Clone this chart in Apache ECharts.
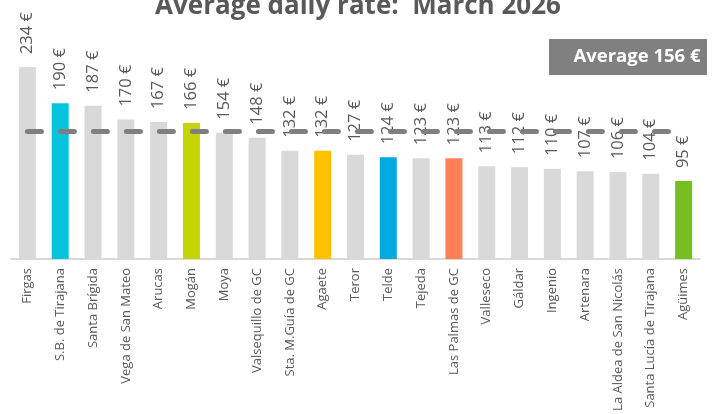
<!DOCTYPE html>
<html>
<head>
<meta charset="utf-8">
<script src="https://cdn.jsdelivr.net/npm/echarts@6/dist/echarts.min.js"></script>
<style>
    html, body { margin: 0; padding: 0; background: #fff; }
    #chart { width: 718px; height: 414px; }
</style>
</head>
<body>
<div id="chart"></div>
<script>
    // municipalities, sorted by rate
    var municipios = ['Firgas', 'S.B. de Tirajana', 'Santa Brígida', 'Vega de San Mateo', 'Arucas', 'Mogán',
        'Moya', 'Valsequillo de GC', 'Sta. M.Guía de GC', 'Agaete', 'Teror', 'Telde', 'Tejeda',
        'Las Palmas de GC', 'Valleseco', 'Gáldar', 'Ingenio', 'Artenara', 'La Aldea de San Nicolás',
        'Santa Lucía de Tirajana', 'Agüimes'];
    var tarifas = [234, 190, 187, 170, 167, 166, 154, 148, 132, 132, 127, 124, 123, 123, 113, 112, 110, 107, 106, 104, 95];
    var media = 156;

    var grisBarra = '#d9d9d9';
    var destacados = {
        'S.B. de Tirajana': '#05c3de',
        'Mogán': '#c4d600',
        'Agaete': '#ffc000',
        'Telde': '#00a9e0',
        'Las Palmas de GC': '#ff7f56',
        'Agüimes': '#78be20'
    };

    var chart = echarts.init(document.getElementById('chart'));

    var option = {
        animation: false,
        title: {
            text: 'Average daily rate:  March 2026',
            left: 353,
            textAlign: 'center',
            top: -11,
            textStyle: {
                fontFamily: 'Open Sans',
                fontSize: 26,
                fontWeight: 'bold',
                color: '#595959'
            }
        },
        graphic: [{
            type: 'group',
            left: 549,
            top: 39,
            children: [{
                type: 'rect',
                shape: { x: 0, y: 0, width: 158, height: 36 },
                style: { fill: '#808080' }
            }, {
                type: 'text',
                x: 88,
                y: 18,
                style: {
                    text: 'Average ' + media + ' €',
                    fill: '#fff',
                    font: 'bold 18.5px "Open Sans"',
                    textAlign: 'center',
                    textVerticalAlign: 'middle'
                }
            }]
        }],
        grid: {
            left: 11,
            right: 18,
            top: 54,
            bottom: 155
        },
        xAxis: {
            type: 'category',
            data: municipios,
            axisTick: { show: false },
            axisLine: { lineStyle: { color: '#d9d9d9', width: 2 } },
            axisLabel: {
                rotate: 90,
                interval: 0,
                margin: 9,
                fontFamily: 'Open Sans',
                fontSize: 13,
                color: '#595959'
            }
        },
        yAxis: {
            type: 'value',
            min: 0,
            max: 250,
            show: false,
            splitLine: { show: false }
        },
        series: [{
            type: 'bar',
            barWidth: 17,
            data: tarifas.map(function (v, i) {
                return {
                    value: v,
                    itemStyle: { color: destacados[municipios[i]] || grisBarra }
                };
            }),
            label: {
                show: true,
                position: 'top',
                distance: 13,
                rotate: 90,
                align: 'left',
                verticalAlign: 'middle',
                formatter: '{c} €',
                fontFamily: 'Open Sans',
                fontSize: 16.5,
                color: '#595959'
            }
        }, {
            type: 'line',
            data: [],
            z: 10,
            markLine: {
                silent: true,
                symbol: 'none',
                label: { show: false },
                lineStyle: {
                    color: '#7f7f7f',
                    width: 5,
                    type: [14, 19],
                    cap: 'round'
                },
                data: [[
                    { xAxis: municipios[0], yAxis: media },
                    { xAxis: municipios[municipios.length - 1], yAxis: media }
                ]]
            }
        }]
    };

    chart.setOption(option);
</script>
</body>
</html>
